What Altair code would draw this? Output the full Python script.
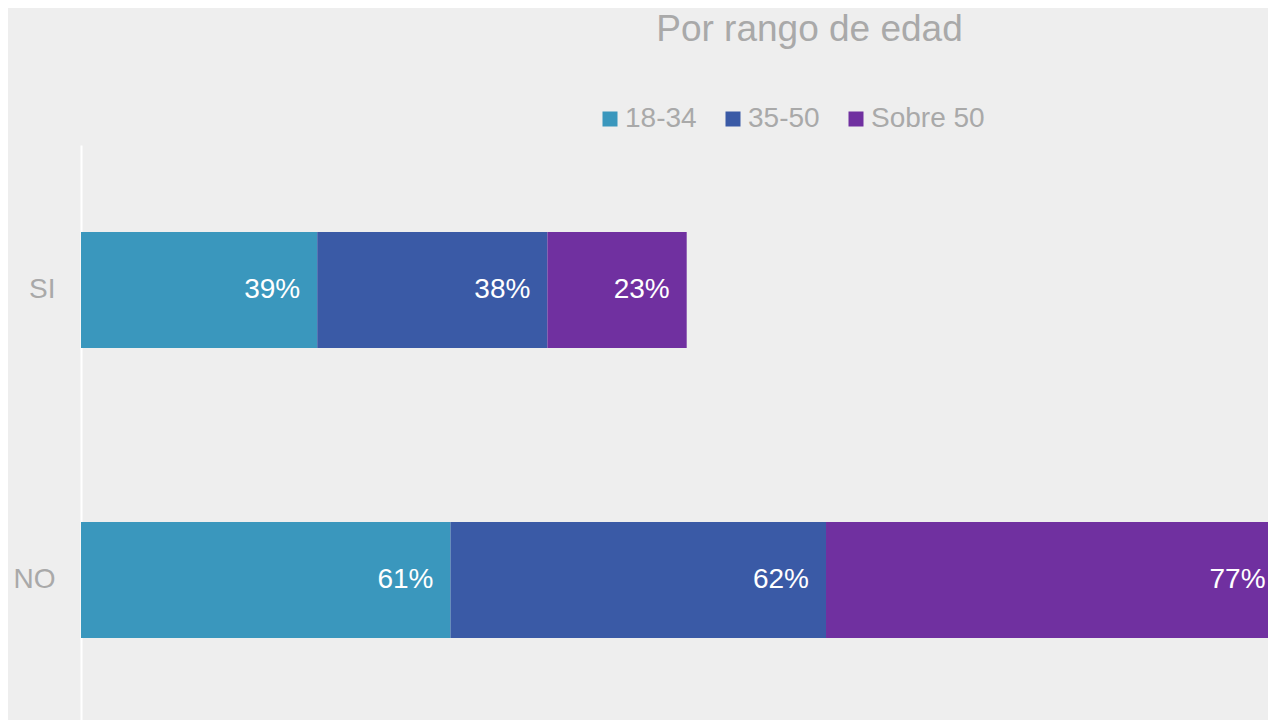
import altair as alt
import pandas as pd

responses = ["SI", "SI", "SI", "NO", "NO", "NO"]
groups = ["18-34", "35-50", "Sobre 50", "18-34", "35-50", "Sobre 50"]
values = [39, 38, 23, 61, 62, 77]
group_order = [0, 1, 2, 0, 1, 2]

categories = ["SI", "NO"]
legend_groups = ["18-34", "35-50", "Sobre 50"]
colors = ["#3a97bd", "#3a5aa6", "#7030a0"]

df = pd.DataFrame({"resp": responses, "group": groups, "value": values, "ord": group_order})
df["label"] = df["value"].astype(str) + "%"

FONT = "Liberation Sans"
GRAY = "#a9a9a9"
W, H = 1187, 575
XMAX = W / 6.057
LABEL_MAX = XMAX + 2.4

base = alt.Chart(df).transform_stack(
    stack="value", groupby=["resp"], as_=["v0", "v1"],
    sort=[alt.SortField("ord", order="ascending")]
)

y_enc = alt.Y(
    "resp:N", sort=categories, title=None,
    scale=alt.Scale(range=[0, 580], paddingInner=0, paddingOuter=0),
    axis=alt.Axis(labelFontSize=28, labelColor=GRAY, labelFont=FONT, labelPadding=26,
                  ticks=False, domainColor="#ffffff", domainWidth=2, grid=False),
)

xscale = alt.Scale(domain=[0, XMAX], nice=False, zero=True)

bars = base.mark_bar(size=116, clip=True).encode(
    x=alt.X("v0:Q", scale=xscale, axis=None),
    x2="v1:Q",
    y=y_enc,
    color=alt.Color(
        "group:N", sort=legend_groups,
        scale=alt.Scale(domain=legend_groups, range=colors),
        legend=alt.Legend(
            title=None, orient="none", direction="horizontal",
            legendX=515, legendY=-40, symbolType="square", symbolSize=225,
            symbolStrokeWidth=0, labelFontSize=28, labelColor=GRAY, labelFont=FONT,
            labelOffset=1, columnPadding=22, symbolOpacity=1,
        ),
    ),
)

texts = base.transform_calculate(
    vx=f"min(datum.v1, {LABEL_MAX})"
).mark_text(align="right", baseline="middle", dx=-17, fontSize=28,
            color="#ffffff", font=FONT).encode(
    x=alt.X("vx:Q", scale=xscale),
    y=alt.Y("resp:N", sort=categories),
    text="label:N",
)

chart = alt.layer(bars, texts).properties(
    width=W, height=H,
    title=alt.TitleParams("Por rango de edad", fontSize=37, color=GRAY, font=FONT,
                          fontWeight="normal", anchor="middle", baseline="alphabetic",
                          dx=135, dy=-23),
    autosize=alt.AutoSizeParams(type="none"),
    padding={"left": 73, "top": 137, "right": 0, "bottom": 0},
).configure(background="#eeeeee").configure_view(stroke=None)

chart.save("out.html", embed_options={"renderer": "svg", "actions": False})
